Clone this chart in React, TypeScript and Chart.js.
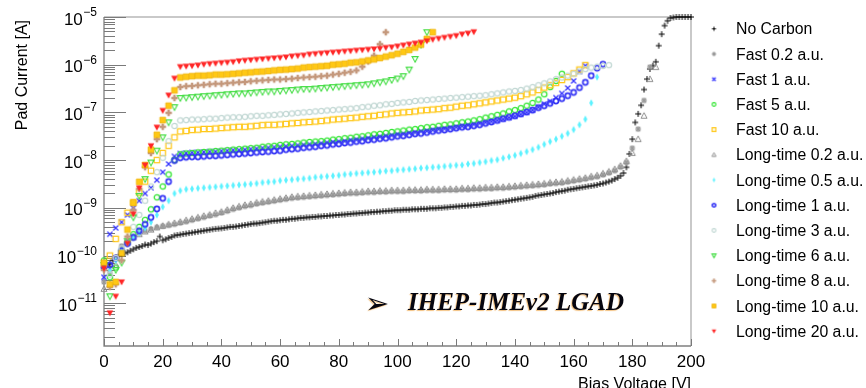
import React, { useEffect, useRef } from 'react';
import { Chart, registerables } from 'chart.js';

Chart.register(...registerables);

// ---------------- data ----------------
const VOLTS_1V = [
  0, 1, 2, 3, 4, 5, 6, 7, 8, 9, 10, 11, 12, 13, 14, 15, 16, 17, 18, 19,
  20, 21, 22, 23, 24, 25, 26, 27, 28, 29, 30, 31, 32, 33, 34, 35, 36, 37, 38, 39,
  40, 41, 42, 43, 44, 45, 46, 47, 48, 49, 50, 51, 52, 53, 54, 55, 56, 57, 58, 59,
  60, 61, 62, 63, 64, 65, 66, 67, 68, 69, 70, 71, 72, 73, 74, 75, 76, 77, 78, 79,
  80, 81, 82, 83, 84, 85, 86, 87, 88, 89, 90, 91, 92, 93, 94, 95, 96, 97, 98, 99,
  100, 101, 102, 103, 104, 105, 106, 107, 108, 109, 110, 111, 112, 113, 114, 115, 116, 117, 118, 119,
  120, 121, 122, 123, 124, 125, 126, 127, 128, 129, 130, 131, 132, 133, 134, 135, 136, 137, 138, 139,
  140, 141, 142, 143, 144, 145, 146, 147, 148, 149, 150, 151, 152, 153, 154, 155, 156, 157, 158, 159,
  160, 161, 162, 163, 164, 165, 166, 167, 168, 169, 170, 171, 172, 173, 174, 175, 176, 177, 178, 179,
  180, 181, 182, 183, 184, 185, 186, 187, 188, 189, 190, 191, 192, 193, 194, 195, 196, 197, 198, 199,
  200,
];

const VOLTS_2V = [
  0, 2, 4, 6, 8, 10, 12, 14, 16, 18, 20, 22, 24, 26, 28, 30, 32, 34, 36, 38,
  40, 42, 44, 46, 48, 50, 52, 54, 56, 58, 60, 62, 64, 66, 68, 70, 72, 74, 76, 78,
  80, 82, 84, 86, 88, 90, 92, 94, 96, 98, 100, 102, 104, 106, 108, 110, 112, 114, 116, 118,
  120, 122, 124, 126, 128, 130, 132, 134, 136, 138, 140, 142, 144, 146, 148, 150, 152, 154, 156, 158,
  160, 162, 164, 166, 168, 170, 172, 174, 176, 178, 180, 182, 184, 186, 188, 190, 192, 194, 196, 198,
  200,
];

const LEGEND_LABELS = [
  'No Carbon', 'Fast 0.2 a.u.', 'Fast 1 a.u.', 'Fast 5 a.u.', 'Fast 10 a.u.',
  'Long-time 0.2 a.u.', 'Long-time 0.5 a.u.', 'Long-time 1 a.u.', 'Long-time 3 a.u.',
  'Long-time 6 a.u.', 'Long-time 8 a.u.', 'Long-time 10 a.u.', 'Long-time 20 a.u.',
];

const X_LABELS = [0, 20, 40, 60, 80, 100, 120, 140, 160, 180, 200];
const Y_DECADES = [-5, -6, -7, -8, -9, -10, -11];
const Y_MIN = 1.27e-12;
const Y_MAX = 1e-5;

// Pad current [A], 1 V steps
const noCarbon = [
  5.6e-11, 6.3e-11, 6.6e-11, 7.9e-11, 9.1e-11, 1.0e-10, 1.05e-10, 1.12e-10, 1.17e-10, 1.26e-10,
  1.35e-10, 1.45e-10, 1.51e-10, 1.58e-10, 1.7e-10, 1.66e-10, 1.78e-10, 1.91e-10, 2.0e-10, 2.5e-10,
  2.09e-10, 2.19e-10, 2.34e-10, 2.45e-10, 2.63e-10, 2.69e-10, 2.75e-10, 2.82e-10, 2.88e-10, 2.95e-10,
  3.02e-10, 3.09e-10, 3.16e-10, 3.24e-10, 3.31e-10, 3.39e-10, 3.47e-10, 3.55e-10, 3.63e-10, 3.67e-10,
  3.72e-10, 3.8e-10, 3.89e-10, 4.0e-10, 4.0e-10, 4.07e-10, 4.17e-10, 4.27e-10, 4.37e-10, 4.47e-10,
  4.57e-10, 4.68e-10, 4.68e-10, 4.79e-10, 4.9e-10, 5.0e-10, 5.13e-10, 5.25e-10, 5.37e-10, 5.37e-10,
  5.5e-10, 5.62e-10, 5.62e-10, 5.75e-10, 5.89e-10, 5.89e-10, 6.03e-10, 6.17e-10, 6.17e-10, 6.31e-10,
  6.31e-10, 6.46e-10, 6.46e-10, 6.61e-10, 6.61e-10, 6.76e-10, 6.76e-10, 6.92e-10, 6.92e-10, 7.08e-10,
  7.08e-10, 7.24e-10, 7.24e-10, 7.41e-10, 7.41e-10, 7.59e-10, 7.59e-10, 7.76e-10, 7.76e-10, 7.94e-10,
  7.94e-10, 8.13e-10, 8.13e-10, 8.32e-10, 8.32e-10, 8.51e-10, 8.51e-10, 8.71e-10, 8.71e-10, 8.91e-10,
  8.91e-10, 8.91e-10, 9.12e-10, 9.12e-10, 9.12e-10, 9.33e-10, 9.33e-10, 9.33e-10, 9.55e-10, 9.55e-10,
  9.55e-10, 9.77e-10, 9.77e-10, 9.77e-10, 1.0e-9, 1.0e-9, 1.02e-9, 1.02e-9, 1.05e-9, 1.05e-9,
  1.07e-9, 1.07e-9, 1.1e-9, 1.1e-9, 1.12e-9, 1.12e-9, 1.15e-9, 1.15e-9, 1.17e-9, 1.2e-9,
  1.2e-9, 1.23e-9, 1.26e-9, 1.29e-9, 1.29e-9, 1.32e-9, 1.35e-9, 1.38e-9, 1.41e-9, 1.45e-9,
  1.48e-9, 1.51e-9, 1.55e-9, 1.58e-9, 1.62e-9, 1.66e-9, 1.7e-9, 1.78e-9, 1.82e-9, 1.86e-9,
  1.91e-9, 1.95e-9, 2.0e-9, 2.04e-9, 2.14e-9, 2.19e-9, 2.24e-9, 2.29e-9, 2.4e-9, 2.45e-9,
  2.5e-9, 2.57e-9, 2.63e-9, 2.69e-9, 2.75e-9, 2.82e-9, 2.88e-9, 2.95e-9, 3.02e-9, 3.16e-9,
  3.24e-9, 3.39e-9, 3.55e-9, 3.72e-9, 4.0e-9, 4.27e-9, 4.68e-9, 5.37e-9, 7.08e-9, 1.35e-8,
  2.75e-8, 6.17e-8, 9.33e-8, 1.41e-7, 3.02e-7, 5.0e-7, 8.13e-7, 9.55e-7, 1.15e-6, 2.51e-6,
  4.37e-6, 6.61e-6, 8.32e-6, 9.55e-6, 9.77e-6, 1.0e-5, 1.0e-5, 1.0e-5, 1.0e-5, 1.0e-5,
  1.0e-5,
];

// Pad current [A], 2 V steps from 0 V
const fast02 = [
  2.8e-11, 4.5e-11, 8.9e-11, 1.58e-10, 2.09e-10, 2.5e-10, 2.95e-10, 3.3e-10, 3.6e-10, 3.9e-10,
  4.1e-10, 4.3e-10, 4.5e-10, 4.8e-10, 5.1e-10, 5.5e-10, 5.9e-10, 6.3e-10, 6.8e-10, 7.2e-10,
  7.8e-10, 8.5e-10, 9.3e-10, 1.0e-9, 1.07e-9, 1.12e-9, 1.2e-9, 1.26e-9, 1.32e-9, 1.38e-9,
  1.45e-9, 1.51e-9, 1.58e-9, 1.62e-9, 1.66e-9, 1.7e-9, 1.74e-9, 1.78e-9, 1.82e-9, 1.86e-9,
  1.91e-9, 1.95e-9, 2.0e-9, 2.0e-9, 2.04e-9, 2.09e-9, 2.09e-9, 2.14e-9, 2.14e-9, 2.19e-9,
  2.19e-9, 2.19e-9, 2.24e-9, 2.24e-9, 2.24e-9, 2.29e-9, 2.29e-9, 2.29e-9, 2.34e-9, 2.34e-9,
  2.34e-9, 2.4e-9, 2.4e-9, 2.45e-9, 2.45e-9, 2.5e-9, 2.5e-9, 2.57e-9, 2.57e-9, 2.63e-9,
  2.69e-9, 2.75e-9, 2.82e-9, 2.88e-9, 2.95e-9, 3.02e-9, 3.16e-9, 3.24e-9, 3.31e-9, 3.47e-9,
  3.63e-9, 3.8e-9, 4.0e-9, 4.27e-9, 4.47e-9, 4.9e-9, 5.37e-9, 6.0e-9, 7.1e-9, 8.9e-9,
  1.78e-8, 4.47e-8, 1.78e-7, 8.9e-7,
];

const fast1 = [
  3.5e-11, 2.8e-10, 3.8e-10, 5.0e-10, 7.1e-10, 1.0e-9, 1.41e-9, 2.0e-9, 2.63e-9, 3.8e-9,
  5.6e-9, 8.3e-9, 1.2e-8, 1.38e-8, 1.41e-8, 1.45e-8, 1.45e-8, 1.48e-8, 1.51e-8, 1.51e-8,
  1.55e-8, 1.58e-8, 1.62e-8, 1.62e-8, 1.66e-8, 1.7e-8, 1.74e-8, 1.78e-8, 1.82e-8, 1.86e-8,
  1.91e-8, 1.95e-8, 2.0e-8, 2.04e-8, 2.09e-8, 2.14e-8, 2.19e-8, 2.24e-8, 2.34e-8, 2.4e-8,
  2.45e-8, 2.5e-8, 2.63e-8, 2.69e-8, 2.82e-8, 2.88e-8, 3.02e-8, 3.09e-8, 3.24e-8, 3.31e-8,
  3.47e-8, 3.55e-8, 3.72e-8, 3.8e-8, 4.0e-8, 4.07e-8, 4.27e-8, 4.47e-8, 4.57e-8, 4.79e-8,
  4.9e-8, 5.13e-8, 5.37e-8, 5.6e-8, 5.9e-8, 6.2e-8, 6.45e-8, 6.8e-8, 7.2e-8, 7.8e-8,
  8.3e-8, 9.1e-8, 1.0e-7, 1.12e-7, 1.29e-7, 1.51e-7, 1.7e-7, 2.04e-7, 2.5e-7, 3.24e-7,
  4.57e-7, 7.2e-7, 9.5e-7,
];

const fast5 = [
  7.9e-11, 3.5e-11, 5.6e-11, 1.26e-10, 1.9e-10, 2.8e-10, 4.0e-10, 5.6e-10, 9.3e-10, 1.66e-9,
  2.8e-9, 5.0e-9, 1.0e-8, 1.32e-8, 1.38e-8, 1.41e-8, 1.45e-8, 1.48e-8, 1.51e-8, 1.55e-8,
  1.58e-8, 1.62e-8, 1.66e-8, 1.7e-8, 1.74e-8, 1.78e-8, 1.82e-8, 1.91e-8, 1.95e-8, 2.0e-8,
  2.09e-8, 2.14e-8, 2.19e-8, 2.24e-8, 2.34e-8, 2.4e-8, 2.45e-8, 2.5e-8, 2.57e-8, 2.69e-8,
  2.75e-8, 2.88e-8, 2.95e-8, 3.09e-8, 3.16e-8, 3.31e-8, 3.47e-8, 3.55e-8, 3.72e-8, 3.89e-8,
  4.0e-8, 4.17e-8, 4.37e-8, 4.47e-8, 4.68e-8, 4.9e-8, 5.0e-8, 5.25e-8, 5.5e-8, 5.6e-8,
  5.9e-8, 6.2e-8, 6.45e-8, 6.8e-8, 7.2e-8, 7.8e-8, 8.3e-8, 8.9e-8, 9.5e-8, 1.05e-7,
  1.12e-7, 1.23e-7, 1.38e-7, 1.58e-7, 1.86e-7, 2.4e-7, 3.39e-7, 4.57e-7, 6.45e-7,
];

const fast10 = [
  6.3e-11, 1.0e-10, 2.24e-10, 5.0e-10, 7.9e-10, 1.32e-9, 2.09e-9, 3.55e-9, 6.0e-9, 1.0e-8,
  1.41e-8, 2.0e-8, 3.0e-8, 4.0e-8, 4.1e-8, 4.3e-8, 4.35e-8, 4.5e-8, 4.5e-8, 4.6e-8,
  4.7e-8, 4.8e-8, 4.9e-8, 5.0e-8, 5.0e-8, 5.1e-8, 5.25e-8, 5.4e-8, 5.5e-8, 5.5e-8,
  5.6e-8, 5.75e-8, 5.9e-8, 6.0e-8, 6.2e-8, 6.3e-8, 6.45e-8, 6.6e-8, 6.8e-8, 7.1e-8,
  7.2e-8, 7.4e-8, 7.6e-8, 7.8e-8, 8.1e-8, 8.3e-8, 8.5e-8, 8.9e-8, 9.1e-8, 9.5e-8,
  9.8e-8, 1.0e-7, 1.02e-7, 1.05e-7, 1.1e-7, 1.12e-7, 1.15e-7, 1.17e-7, 1.23e-7, 1.26e-7,
  1.32e-7, 1.38e-7, 1.41e-7, 1.48e-7, 1.55e-7, 1.62e-7, 1.7e-7, 1.78e-7, 1.86e-7, 1.95e-7,
  2.04e-7, 2.19e-7, 2.4e-7, 2.63e-7, 2.95e-7, 3.31e-7, 3.72e-7, 4.17e-7, 4.79e-7, 5.5e-7,
  6.6e-7, 7.9e-7, 9.8e-7,
];

const longTime02 = [
  2.0e-11, 2.5e-11, 6.3e-11, 1.26e-10, 1.9e-10, 2.4e-10, 2.8e-10, 3.2e-10, 3.5e-10, 3.9e-10,
  4.2e-10, 4.5e-10, 4.8e-10, 5.1e-10, 5.5e-10, 5.9e-10, 6.3e-10, 6.8e-10, 7.2e-10, 7.8e-10,
  8.3e-10, 9.1e-10, 1.0e-9, 1.07e-9, 1.15e-9, 1.2e-9, 1.29e-9, 1.35e-9, 1.41e-9, 1.48e-9,
  1.55e-9, 1.62e-9, 1.7e-9, 1.74e-9, 1.78e-9, 1.82e-9, 1.86e-9, 1.91e-9, 1.95e-9, 2.0e-9,
  2.04e-9, 2.09e-9, 2.14e-9, 2.14e-9, 2.19e-9, 2.24e-9, 2.24e-9, 2.29e-9, 2.29e-9, 2.34e-9,
  2.34e-9, 2.34e-9, 2.4e-9, 2.4e-9, 2.4e-9, 2.45e-9, 2.45e-9, 2.45e-9, 2.5e-9, 2.5e-9,
  2.5e-9, 2.57e-9, 2.57e-9, 2.63e-9, 2.63e-9, 2.69e-9, 2.69e-9, 2.75e-9, 2.75e-9, 2.82e-9,
  2.88e-9, 2.95e-9, 3.02e-9, 3.09e-9, 3.16e-9, 3.24e-9, 3.39e-9, 3.47e-9, 3.55e-9, 3.72e-9,
  3.89e-9, 4.07e-9, 4.27e-9, 4.57e-9, 4.79e-9, 5.25e-9, 5.75e-9, 6.45e-9, 7.6e-9, 9.5e-9,
  1.41e-8, 2.75e-8, 8.5e-8, 5.0e-7, 8.9e-7,
];

const longTime05 = [
  7.1e-11, 5.0e-11, 7.9e-11, 1.26e-10, 1.78e-10, 2.4e-10, 3.0e-10, 3.8e-10, 5.0e-10, 7.1e-10,
  1.05e-9, 1.41e-9, 2.0e-9, 2.29e-9, 2.45e-9, 2.5e-9, 2.57e-9, 2.63e-9, 2.69e-9, 2.75e-9,
  2.82e-9, 2.88e-9, 2.95e-9, 3.02e-9, 3.09e-9, 3.16e-9, 3.24e-9, 3.39e-9, 3.47e-9, 3.55e-9,
  3.72e-9, 3.8e-9, 3.89e-9, 4.0e-9, 4.07e-9, 4.17e-9, 4.37e-9, 4.47e-9, 4.57e-9, 4.68e-9,
  4.79e-9, 5.0e-9, 5.13e-9, 5.25e-9, 5.37e-9, 5.5e-9, 5.6e-9, 5.75e-9, 5.9e-9, 6.0e-9,
  6.2e-9, 6.3e-9, 6.45e-9, 6.6e-9, 6.8e-9, 6.9e-9, 7.1e-9, 7.2e-9, 7.4e-9, 7.6e-9,
  7.8e-9, 7.9e-9, 8.3e-9, 8.5e-9, 8.9e-9, 9.3e-9, 9.8e-9, 1.02e-8, 1.1e-8, 1.17e-8,
  1.26e-8, 1.38e-8, 1.51e-8, 1.66e-8, 1.86e-8, 2.14e-8, 2.45e-8, 2.75e-8, 3.16e-8, 3.63e-8,
  4.37e-8, 5.5e-8, 7.2e-8, 1.58e-7, 5.5e-7,
];

const longTime1 = [
  5.6e-11, 6.3e-11, 8.9e-11, 1.26e-10, 1.78e-10, 2.4e-10, 3.3e-10, 4.5e-10, 6.3e-10, 9.5e-10,
  1.58e-9, 3.55e-9, 9.8e-9, 1.12e-8, 1.15e-8, 1.17e-8, 1.17e-8, 1.2e-8, 1.23e-8, 1.23e-8,
  1.26e-8, 1.29e-8, 1.32e-8, 1.35e-8, 1.38e-8, 1.41e-8, 1.45e-8, 1.48e-8, 1.51e-8, 1.55e-8,
  1.58e-8, 1.66e-8, 1.7e-8, 1.74e-8, 1.82e-8, 1.86e-8, 1.91e-8, 2.0e-8, 2.04e-8, 2.14e-8,
  2.19e-8, 2.29e-8, 2.34e-8, 2.45e-8, 2.5e-8, 2.63e-8, 2.69e-8, 2.82e-8, 2.88e-8, 3.02e-8,
  3.16e-8, 3.24e-8, 3.39e-8, 3.55e-8, 3.63e-8, 3.8e-8, 4.0e-8, 4.17e-8, 4.27e-8, 4.47e-8,
  4.68e-8, 4.9e-8, 5.0e-8, 5.25e-8, 5.5e-8, 5.9e-8, 6.3e-8, 6.8e-8, 7.4e-8, 7.9e-8,
  8.5e-8, 9.3e-8, 1.02e-7, 1.12e-7, 1.26e-7, 1.38e-7, 1.55e-7, 1.74e-7, 1.95e-7, 2.24e-7,
  2.63e-7, 3.31e-7, 4.27e-7, 5.9e-7, 8.5e-7, 1.02e-6,
];

const longTime3 = [
  6.3e-11, 4.0e-11, 8.9e-11, 1.41e-10, 2.24e-10, 4.0e-10, 7.1e-10, 1.41e-9, 2.8e-9, 5.6e-9,
  1.12e-8, 2.5e-8, 5.2e-8, 6.8e-8, 6.9e-8, 7.1e-8, 7.1e-8, 7.2e-8, 7.4e-8, 7.4e-8,
  7.6e-8, 7.8e-8, 7.9e-8, 7.9e-8, 8.1e-8, 8.3e-8, 8.5e-8, 8.5e-8, 8.7e-8, 8.9e-8,
  9.1e-8, 9.3e-8, 9.5e-8, 9.8e-8, 1.0e-7, 1.02e-7, 1.05e-7, 1.07e-7, 1.1e-7, 1.12e-7,
  1.15e-7, 1.17e-7, 1.2e-7, 1.23e-7, 1.29e-7, 1.32e-7, 1.38e-7, 1.41e-7, 1.48e-7, 1.51e-7,
  1.58e-7, 1.62e-7, 1.66e-7, 1.74e-7, 1.78e-7, 1.82e-7, 1.86e-7, 1.91e-7, 1.95e-7, 2.0e-7,
  2.04e-7, 2.09e-7, 2.14e-7, 2.19e-7, 2.24e-7, 2.29e-7, 2.4e-7, 2.5e-7, 2.63e-7, 2.75e-7,
  2.82e-7, 2.95e-7, 3.16e-7, 3.39e-7, 3.72e-7, 4.07e-7, 4.47e-7, 5.0e-7, 5.4e-7, 5.9e-7,
  6.45e-7, 7.2e-7, 8.1e-7, 8.7e-7, 9.1e-7, 9.5e-7, 9.8e-7,
];

const longTime6 = [
  6.3e-11, 1.4e-11, 5.0e-11, 7.1e-11, 2.0e-10, 6.3e-10, 1.78e-9, 4.0e-9, 8.9e-9, 1.58e-8,
  3.0e-8, 6.2e-8, 1.29e-7, 2.0e-7, 2.04e-7, 2.09e-7, 2.14e-7, 2.19e-7, 2.24e-7, 2.29e-7,
  2.34e-7, 2.4e-7, 2.45e-7, 2.5e-7, 2.5e-7, 2.57e-7, 2.63e-7, 2.69e-7, 2.75e-7, 2.75e-7,
  2.82e-7, 2.88e-7, 2.95e-7, 3.02e-7, 3.09e-7, 3.09e-7, 3.16e-7, 3.24e-7, 3.31e-7, 3.39e-7,
  3.47e-7, 3.55e-7, 3.63e-7, 3.72e-7, 3.8e-7, 3.89e-7, 4.07e-7, 4.27e-7, 4.47e-7, 4.79e-7,
  5.13e-7, 5.75e-7, 7.9e-7, 1.32e-6, 2.63e-6, 4.8e-6,
];

const longTime8 = [
  5.0e-11, 2.2e-11, 2.5e-11, 7.9e-11, 2.5e-10, 8.9e-10, 2.5e-9, 7.1e-9, 1.41e-8, 2.75e-8,
  5.0e-8, 9.8e-8, 2.0e-7, 3.4e-7, 3.55e-7, 3.6e-7, 3.7e-7, 3.8e-7, 3.9e-7, 4.0e-7,
  4.0e-7, 4.1e-7, 4.2e-7, 4.3e-7, 4.35e-7, 4.5e-7, 4.6e-7, 4.7e-7, 4.8e-7, 4.9e-7,
  4.9e-7, 5.0e-7, 5.1e-7, 5.25e-7, 5.4e-7, 5.5e-7, 5.6e-7, 5.75e-7, 5.9e-7, 6.2e-7,
  6.45e-7, 6.8e-7, 7.1e-7, 7.6e-7, 9.1e-7, 1.17e-6, 1.55e-6, 2.7e-6, 4.8e-6,
];

const longTime10 = [
  7.1e-11, 2.5e-11, 2.8e-11, 1.12e-10, 3.5e-10, 1.26e-9, 3.5e-9, 7.9e-9, 1.66e-8, 3.4e-8,
  6.9e-8, 1.38e-7, 2.9e-7, 5.4e-7, 5.6e-7, 5.75e-7, 5.9e-7, 5.9e-7, 6.0e-7, 6.2e-7,
  6.2e-7, 6.3e-7, 6.45e-7, 6.6e-7, 6.8e-7, 6.9e-7, 7.1e-7, 7.2e-7, 7.4e-7, 7.6e-7,
  7.8e-7, 7.9e-7, 8.1e-7, 8.3e-7, 8.7e-7, 8.9e-7, 9.1e-7, 9.3e-7, 9.5e-7, 1.0e-6,
  1.02e-6, 1.05e-6, 1.1e-6, 1.12e-6, 1.17e-6, 1.23e-6, 1.29e-6, 1.38e-6, 1.48e-6, 1.58e-6,
  1.7e-6, 1.86e-6, 2.04e-6, 2.29e-6, 2.63e-6, 3.47e-6, 4.8e-6,
];

const longTime20 = [
  5.4e-11, 6.3e-12, 1.4e-11, 2.8e-11, 1.8e-10, 7.4e-10, 2.6e-9, 7.9e-9, 2.0e-8, 4.9e-8,
  1.1e-7, 2.3e-7, 5.2e-7, 9.1e-7, 9.3e-7, 9.5e-7, 9.8e-7, 1.02e-6, 1.05e-6, 1.07e-6,
  1.1e-6, 1.12e-6, 1.15e-6, 1.2e-6, 1.23e-6, 1.26e-6, 1.29e-6, 1.32e-6, 1.35e-6, 1.38e-6,
  1.41e-6, 1.45e-6, 1.51e-6, 1.55e-6, 1.58e-6, 1.66e-6, 1.7e-6, 1.74e-6, 1.78e-6, 1.82e-6,
  1.86e-6, 1.91e-6, 1.95e-6, 2.0e-6, 2.04e-6, 2.09e-6, 2.14e-6, 2.19e-6, 2.29e-6, 2.34e-6,
  2.45e-6, 2.57e-6, 2.69e-6, 2.82e-6, 2.95e-6, 3.16e-6, 3.39e-6, 3.55e-6, 3.72e-6, 3.89e-6,
  4.07e-6, 4.37e-6, 4.57e-6, 4.9e-6,
];

const SERIES_VALUES = [
  noCarbon, fast02, fast1, fast5, fast10, longTime02, longTime05,
  longTime1, longTime3, longTime6, longTime8, longTime10, longTime20,
];
const SERIES_VOLTS = [
  VOLTS_1V, VOLTS_2V, VOLTS_2V, VOLTS_2V, VOLTS_2V, VOLTS_2V, VOLTS_2V,
  VOLTS_2V, VOLTS_2V, VOLTS_2V, VOLTS_2V, VOLTS_2V, VOLTS_2V,
];

// ---------------- styles ----------------
const MARKERS = [
  { kind: 'plus', color: '#000000' },
  { kind: 'star', color: '#9a9a9a' },
  { kind: 'x', color: '#3a3aff' },
  { kind: 'circle', color: '#33e633' },
  { kind: 'square', color: '#ffc81a' },
  { kind: 'triUp', color: '#8f8f8f' },
  { kind: 'diamond', color: '#5cf2ff' },
  { kind: 'ring', color: '#3535f5' },
  { kind: 'circle', color: '#c2d8d4' },
  { kind: 'triDown', color: '#44dd44' },
  { kind: 'fcross', color: '#c4987c' },
  { kind: 'fsquare', color: '#ffc814' },
  { kind: 'ftriDown', color: '#ff2626' },
];

const SANS = '"Liberation Sans", Arial, Helvetica, sans-serif';

function makeMarker(kind: string, color: string, s: number): HTMLCanvasElement {
  const size = Math.ceil(10 * s) + 2;
  const c = document.createElement('canvas');
  c.width = size;
  c.height = size;
  const g = c.getContext('2d') as CanvasRenderingContext2D;
  const m = size / 2;
  g.strokeStyle = color;
  g.fillStyle = color;
  g.lineWidth = 1.1;
  const r = 3 * s;
  g.beginPath();
  switch (kind) {
    case 'plus':
      g.lineWidth = 1;
      g.moveTo(m - r, m); g.lineTo(m + r, m);
      g.moveTo(m, m - r); g.lineTo(m, m + r);
      g.stroke();
      break;
    case 'star': {
      g.lineWidth = 1.1;
      const d = r * 0.75;
      g.moveTo(m - r, m); g.lineTo(m + r, m);
      g.moveTo(m, m - r); g.lineTo(m, m + r);
      g.moveTo(m - d, m - d); g.lineTo(m + d, m + d);
      g.moveTo(m - d, m + d); g.lineTo(m + d, m - d);
      g.stroke();
      break;
    }
    case 'x': {
      g.lineWidth = 1.3;
      const d = r * 0.85;
      g.moveTo(m - d, m - d); g.lineTo(m + d, m + d);
      g.moveTo(m - d, m + d); g.lineTo(m + d, m - d);
      g.stroke();
      break;
    }
    case 'circle':
      g.lineWidth = 1.25;
      g.arc(m, m, r * 0.9, 0, Math.PI * 2);
      g.stroke();
      break;
    case 'ring':
      g.lineWidth = 1.7;
      g.arc(m, m, r * 0.85, 0, Math.PI * 2);
      g.stroke();
      break;
    case 'square': {
      g.lineWidth = 1.25;
      const h = r * 0.9;
      g.rect(m - h, m - h, 2 * h, 2 * h);
      g.stroke();
      break;
    }
    case 'fsquare': {
      const h = r * 0.95;
      g.rect(m - h, m - h, 2 * h, 2 * h);
      g.fill();
      g.lineWidth = 0.8;
      g.strokeStyle = '#eeb000';
      g.stroke();
      break;
    }
    case 'triUp':
      g.lineWidth = 1;
      g.moveTo(m, m - r * 1.05); g.lineTo(m + r, m + r * 0.8); g.lineTo(m - r, m + r * 0.8);
      g.closePath();
      g.stroke();
      break;
    case 'triDown':
      g.lineWidth = 1.1;
      g.moveTo(m, m + r * 1.05); g.lineTo(m + r, m - r * 0.8); g.lineTo(m - r, m - r * 0.8);
      g.closePath();
      g.stroke();
      break;
    case 'ftriDown':
      g.moveTo(m, m + r * 1.15); g.lineTo(m + r * 1.1, m - r * 0.85); g.lineTo(m - r * 1.1, m - r * 0.85);
      g.closePath();
      g.fill();
      break;
    case 'diamond':
      g.moveTo(m, m - r * 1.25); g.lineTo(m + r * 0.65, m); g.lineTo(m, m + r * 1.25); g.lineTo(m - r * 0.65, m);
      g.closePath();
      g.fill();
      break;
    case 'fcross': {
      const w = r * 0.42;
      const L = r * 1.1;
      g.moveTo(m - w, m - L); g.lineTo(m + w, m - L); g.lineTo(m + w, m - w); g.lineTo(m + L, m - w);
      g.lineTo(m + L, m + w); g.lineTo(m + w, m + w); g.lineTo(m + w, m + L); g.lineTo(m - w, m + L);
      g.lineTo(m - w, m + w); g.lineTo(m - L, m + w); g.lineTo(m - L, m - w); g.lineTo(m - w, m - w);
      g.closePath();
      g.fill();
      break;
    }
  }
  return c;
}

export default function App() {
  const ref = useRef<HTMLCanvasElement>(null);

  useEffect(() => {
    const canvas = ref.current;
    if (!canvas) return;

    const plotMarkers = MARKERS.map((mk) => makeMarker(mk.kind, mk.color, 1));
    const legendMarkers = MARKERS.map((mk) => makeMarker(mk.kind, mk.color, 0.68));

    const datasets = SERIES_VALUES.map((vals, i) => ({
      label: LEGEND_LABELS[i],
      data: vals.map((v, k) => ({ x: SERIES_VOLTS[i][k], y: v })),
      pointStyle: plotMarkers[i],
      pointRadius: 3,
      pointHoverRadius: 3,
      showLine: false,
      clip: 12,
      order: SERIES_VALUES.length - i,
    }));

    const rootPlugin = {
      id: 'rootStyle',
      beforeDatasetsDraw(chart: any) {
        const { ctx, chartArea: a, scales } = chart;
        const xs = scales.x;
        const ys = scales.y;
        ctx.save();
        // frame (top / right)
        ctx.strokeStyle = '#b8b8b8';
        ctx.lineWidth = 1.5;
        ctx.beginPath();
        ctx.moveTo(a.left, a.top);
        ctx.lineTo(a.right, a.top);
        ctx.lineTo(a.right, a.bottom);
        ctx.stroke();
        // axes
        ctx.strokeStyle = '#808080';
        ctx.lineWidth = 1.3;
        ctx.beginPath();
        ctx.moveTo(a.left, a.top);
        ctx.lineTo(a.left, a.bottom);
        ctx.lineTo(a.right, a.bottom);
        ctx.stroke();
        // x ticks
        ctx.lineWidth = 1;
        ctx.strokeStyle = '#7a7a7a';
        ctx.beginPath();
        for (let v = 0; v <= 200; v += 5) {
          const px = Math.round(xs.getPixelForValue(v)) + 0.5;
          const len = v % 20 === 0 ? 7 : 4;
          ctx.moveTo(px, a.bottom);
          ctx.lineTo(px, a.bottom - len);
        }
        ctx.stroke();
        // y ticks
        ctx.beginPath();
        for (let e = -12; e <= -5; e++) {
          for (let k = 1; k <= 9; k++) {
            const v = k * Math.pow(10, e);
            if (v < Y_MIN * 0.999 || v > Y_MAX * 1.001) continue;
            const py = Math.round(ys.getPixelForValue(v)) + 0.5;
            const len = k === 1 ? 22 : 11;
            ctx.moveTo(a.left, py);
            ctx.lineTo(a.left + len, py);
          }
        }
        ctx.stroke();
        ctx.restore();
      },
      afterDraw(chart: any) {
        const { ctx, chartArea: a, scales } = chart;
        const xs = scales.x;
        const ys = scales.y;
        ctx.save();
        ctx.fillStyle = '#000';
        // x tick labels
        ctx.font = `17px ${SANS}`;
        ctx.textAlign = 'center';
        ctx.textBaseline = 'alphabetic';
        X_LABELS.forEach((v) => {
          ctx.fillText(String(v), xs.getPixelForValue(v), 366.5);
        });
        // y tick labels 10^n
        Y_DECADES.forEach((e) => {
          const py = ys.getPixelForValue(Math.pow(10, e));
          const sup = '\u2212' + String(-e);
          ctx.font = `12px ${SANS}`;
          ctx.textAlign = 'right';
          const sw = ctx.measureText(sup).width;
          ctx.fillText(sup, 97, py - 1);
          ctx.font = `17px ${SANS}`;
          ctx.fillText('10', 97 - sw - 0.5, py + 7.5);
        });
        // axis titles
        ctx.font = `16px ${SANS}`;
        ctx.textAlign = 'right';
        ctx.fillText('Bias Voltage [V]', a.right, 388.5);
        ctx.save();
        ctx.translate(26.5, 20);
        ctx.rotate(-Math.PI / 2);
        ctx.textAlign = 'right';
        ctx.fillText('Pad Current [A]', 0, 0);
        ctx.restore();
        // legend
        ctx.font = `15.8px ${SANS}`;
        ctx.textAlign = 'left';
        LEGEND_LABELS.forEach((lab, i) => {
          const base = 34.3 + 25.2 * i;
          const mk = legendMarkers[i];
          ctx.drawImage(mk, 714 - mk.width / 2, base - 5.5 - mk.height / 2);
          ctx.fillText(lab, 736, base);
        });
        // annotation
        ctx.save();
        ctx.shadowColor = 'rgba(235,150,40,0.6)';
        ctx.shadowOffsetX = -1;
        ctx.shadowOffsetY = 1;
        ctx.shadowBlur = 1;
        ctx.fillStyle = '#05050f';
        ctx.textAlign = 'left';
        ctx.font = '29px "DejaVu Sans", sans-serif';
        ctx.fillText('\u27A2', 365, 313);
        ctx.font = 'italic bold 25px "Liberation Serif", "Times New Roman", serif';
        ctx.fillText('IHEP-IMEv2 LGAD', 408, 309.5);
        ctx.restore();
        ctx.restore();
      },
    };

    const chart = new Chart(canvas, {
      type: 'scatter',
      data: { datasets },
      options: {
        animation: false,
        responsive: false,
        devicePixelRatio: 1,
        events: [],
        layout: { padding: { left: 104, right: 175, top: 17, bottom: 42 } },
        plugins: { legend: { display: false }, tooltip: { enabled: false } },
        scales: {
          x: { type: 'linear', min: 0, max: 200, display: false },
          y: { type: 'logarithmic', min: Y_MIN, max: Y_MAX, display: false },
        },
      },
      plugins: [rootPlugin],
    } as any);

    return () => chart.destroy();
  }, []);

  return (
    <div style={{ position: 'absolute', left: 0, top: 0, width: 866, height: 388, background: '#fff' }}>
      <canvas ref={ref} width={866} height={388} style={{ display: 'block', width: 866, height: 388 }} />
    </div>
  );
}
